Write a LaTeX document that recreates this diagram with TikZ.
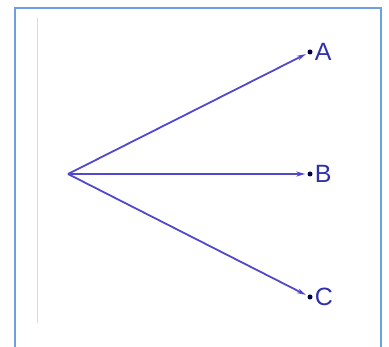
\documentclass[tikz,border=0pt]{standalone}
\usepackage{fontspec}
\setmainfont{Liberation Sans}
\usetikzlibrary{arrows.meta}
\definecolor{vecblue}{RGB}{82,72,205}
\definecolor{labelblue}{RGB}{48,48,170}
\definecolor{frameblue}{RGB}{110,160,225}
\begin{document}
\begin{tikzpicture}[x=1pt,y=-1pt,every node/.style={font=\fontsize{25}{30}\selectfont,text=labelblue},
  vec/.style={draw=vecblue,line width=1.8pt,-{Stealth[length=9pt,width=5pt]},shorten >=2pt},
  tip/.style={circle,fill=black!75!blue,inner sep=0pt,minimum size=5pt}]
\useasboundingbox (0,0) rectangle (389,347);
\draw[gray!30,line width=1pt] (37,18)--(37,323);
\draw[frameblue,line width=1.8pt] (15,347)--(15,8)--(381,8)--(381,347);
\coordinate (o) at (68,174);
\foreach \n/\y in {A/52,B/174,C/297} {\node[tip,label={[inner sep=2pt]right:\n}] (\n) at (310,\y) {}; \draw[vec] (o)--(\n);}
\end{tikzpicture}
\end{document}
